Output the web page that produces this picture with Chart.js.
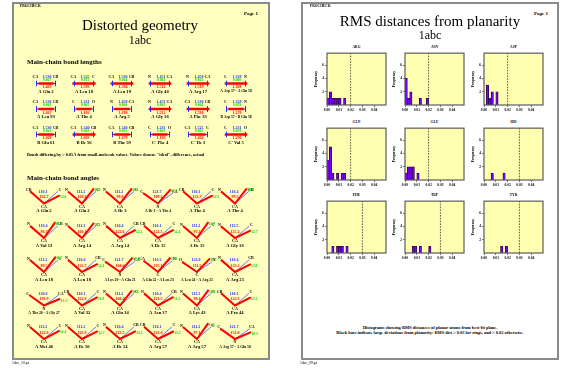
<!DOCTYPE html>
<html>
<head>
<meta charset="utf-8">
<title>PROCHECK 1abc</title>
<script src="https://cdn.jsdelivr.net/npm/chart.js@4.4.1/dist/chart.umd.min.js"></script>
<style>
  html, body { margin:0; padding:0; background:#fff; }
  body { position:relative; width:561px; height:368px; overflow:hidden;
         font-family:"Liberation Serif","Times New Roman",serif; color:#000; }
  .sheet { position:absolute; box-sizing:border-box; border:2px solid #8a8a8a; }
  #sheetGeo  { left:12px;  top:2px; width:258px; height:358px; background:#ffffc0; }
  #sheetPlan { left:301px; top:2px; width:258px; height:358px; background:#ffffff; }
  .lbl { position:absolute; white-space:nowrap; line-height:1; }
  canvas { position:absolute; }
</style>
</head>
<body>
<div class="sheet" id="sheetGeo"></div>
<div class="sheet" id="sheetPlan"></div>
<canvas id="geo" width="280" height="368" style="left:0;top:0"></canvas>
<script>
// ---------------- Main-chain bond lengths ----------------
const bondResidues = ["A Glu 2","A Leu 18","A Leu 19","A Gly 40","A Arg 17","A Asp 57 - A Glu 58",
                      "A Leu 93","A Thr 4","A Arg 5","A Gly 16","A Phe 33","B Asp 57 - B Glu 58",
                      "B Glu 61","B Ile 56","B Thr 59","C' Phe 4","C' Ile 3","C' Val 5"];
const bondAtomA = ["CA","CA","CA","N","N","C","CA","C","N","N","CA","C","CA","CA","CA","C","CA","C"];
const bondAtomB = ["CB","C","CB","CA","CA","N","CB","O","CA","CA","CB","N","CB","CB","CB","O","C","O"];
const bondIdeal  = [1.530,1.525,1.530,1.451,1.458,1.329,1.530,1.231,1.458,1.451,1.530,1.329,
                    1.530,1.540,1.540,1.231,1.525,1.231];
const bondActual = [1.463,1.596,1.594,1.512,1.519,1.389,1.467,1.166,1.398,1.512,1.594,1.270,
                    1.469,1.603,1.479,1.168,1.464,1.290];

// ---------------- Main-chain bond angles ----------------
const angleResidues = ["A Glu 2","A Glu 2","A Ile 3","A Ile 3 - A Thr 4","A Thr 4","A Thr 4",
                       "A Val 13","A Arg 14","A Arg 14","A Ile 15","A Ile 15","A Gly 16",
                       "A Leu 18","A Leu 18","A Lys 20 - A Glu 21","A Glu 22 - A Leu 23","A Leu 24 - A Arg 25","A Arg 25",
                       "A Thr 26 - A Gly 27","A Val 32","A Glu 34","A Asn 37","A Lys 43","A Pro 44",
                       "A Met 46","A Ile 50","A Ile 54","A Arg 57","A Arg 57","A Arg 57 - A Glu 58"];
const angleAtomA = ["CB","N","N","C","CB","N", "N","N","N","CB","N","N", "N","N","C","CA","O","N",
                    "C","CB","N","N","N","CB", "N","N","N","CB","N","C"];
const angleAtomB = ["CA","CA","CA","N","CA","CA", "CA","CA","CA","CA","CA","CA", "CA","CA","N","C","C","CA",
                    "N","CA","CA","CA","CA","CA", "CA","CA","CA","CA","CA","N"];
const angleAtomC = ["C","C","C","CA","C","CB", "CB","C","CB","C","C","C", "C","CB","CA","N","N","CB",
                    "CA","C","C","CB","C","C", "C","C","CB","C","C","CA"];
const angleIdeal  = [110.1,111.2,111.2,121.7,110.1,110.4, 110.4,111.2,110.4,110.1,111.2,112.5,
                     111.2,110.4,121.7,116.2,123.0,110.4, 120.6,110.1,111.2,110.4,111.2,110.1,
                     111.2,111.2,110.4,110.1,111.2,121.7];
const angleActual = [122.7,100.3, 99.8,109.2,122.3, 99.5,  96.7,100.1,122.6,122.5, 97.3,125.2,
                      99.5,122.7,108.6,105.1,111.5,123.2, 131.9,122.0,100.4,121.5, 98.4,122.3,
                     122.6,123.9,123.5,123.6, 97.1,132.0];

// Grid of the diagram page (page pixels)
const BOND_COL_X  = [46, 84, 122, 160, 198, 236];
const BOND_ROW_Y  = [83.5, 109, 134.5];
const ANGLE_COL_X = [44, 82, 120, 158, 197, 235];
const ANGLE_ROW_Y = [203.5, 238, 272, 305.5, 339];
const BOND_HALF = 9.5, BOND_EXAG = 60, ARM = 17, ARM_RISE = 1.25;

const RED = '#ff0000', BLUE = '#2828ff', PALE_BLUE = '#7474ff', GREEN = '#00d000';

function bondPos(i){ return { cx: BOND_COL_X[i % 6], by: BOND_ROW_Y[Math.floor(i / 6)] }; }
function anglePos(i){ return { vx: ANGLE_COL_X[i % 6], vy: ANGLE_ROW_Y[Math.floor(i / 6)] }; }
function armEnds(i){
  const { vx, vy } = anglePos(i);
  const beta = (180 - angleIdeal[i]) / 2 * Math.PI / 180;
  const phi = (180 - (180 - angleIdeal[i]) / 2 - angleActual[i]) * Math.PI / 180;
  return {
    left:  { x: vx - ARM * Math.cos(beta), y: vy - ARM_RISE * ARM * Math.sin(beta) },
    ideal: { x: vx + ARM * Math.cos(beta), y: vy - ARM_RISE * ARM * Math.sin(beta) },
    actual:{ x: vx + ARM * Math.cos(phi),  y: vy - ARM_RISE * ARM * Math.sin(phi) },
    vertex:{ x: vx, y: vy }
  };
}
const GAP = { x: null, y: null };

const bondIdealLine = [], bondActualLine = [], bondEnds = [];
bondIdeal.forEach((ideal, i) => {
  const { cx, by } = bondPos(i);
  const ha = BOND_HALF + (bondActual[i] - ideal) * BOND_EXAG / 2;
  bondIdealLine.push({ x: cx - BOND_HALF, y: by }, { x: cx + BOND_HALF, y: by }, GAP);
  bondActualLine.push({ x: cx - ha, y: by }, { x: cx + ha, y: by }, GAP);
  bondEnds.push({ x: cx - BOND_HALF, y: by - 2.6 }, { x: cx - BOND_HALF, y: by + 2.6 }, GAP,
                { x: cx + BOND_HALF, y: by - 2.6 }, { x: cx + BOND_HALF, y: by + 2.6 }, GAP);
});
const angleIdealLine = [], angleActualLine = [];
angleIdeal.forEach((_, i) => {
  const e = armEnds(i);
  angleIdealLine.push(e.left, e.vertex, e.ideal, GAP);
  angleActualLine.push(e.left, e.vertex, e.actual, GAP);
});

function put(ctx, s, x, y, size, color, align, weight){
  ctx.font = (weight || 'normal') + ' ' + size + 'px "Liberation Serif"';
  ctx.fillStyle = color; ctx.textAlign = align || 'center'; ctx.textBaseline = 'middle';
  ctx.fillText(s, x, y);
}

const geometryLabels = {
  id: 'geometryLabels',
  afterDatasetsDraw(chart){
    const { ctx, scales: { x, y } } = chart;
    const X = v => x.getPixelForValue(v), Y = v => y.getPixelForValue(v);
    ctx.save();
    bondIdeal.forEach((ideal, i) => {
      const { cx, by } = bondPos(i);
      put(ctx, bondAtomA[i], X(cx - 10.5), Y(by - 7), 4, '#000', 'center', 'bold');
      put(ctx, bondAtomB[i], X(cx + 9.5),  Y(by - 7), 4, '#000', 'center', 'bold');
      put(ctx, ideal.toFixed(3), X(cx + 1), Y(by - 7), 4, BLUE, 'center', 'bold');
      put(ctx, Math.abs(bondActual[i] - ideal).toFixed(3), X(cx + 1), Y(by - 3.6), 3.6, GREEN, 'center', 'bold');
      put(ctx, bondActual[i].toFixed(3), X(cx + 1), Y(by + 3.8), 4, RED, 'center', 'bold');
      put(ctx, bondResidues[i], X(cx), Y(by + 8), bondResidues[i].length > 10 ? 3.7 : 4.6, '#000', 'center', 'bold');
    });
    angleIdeal.forEach((ideal, i) => {
      const { vx, vy } = anglePos(i);
      const e = armEnds(i);
      put(ctx, angleAtomA[i], X(e.left.x - 1.5), Y(e.left.y - 1.5), 4, '#000', 'center', 'bold');
      put(ctx, angleAtomC[i], X(e.ideal.x + 2),  Y(e.ideal.y - 1.5), 4, '#000', 'center', 'bold');
      put(ctx, angleAtomB[i], X(vx), Y(vy + 3.4), 4, '#000', 'center', 'bold');
      put(ctx, ideal.toFixed(1), X(vx - 1), Y(vy - 12), 4, BLUE, 'center', 'bold');
      put(ctx, angleActual[i].toFixed(1), X(vx), Y(vy - 6.5), 4, RED, 'center', 'bold');
      put(ctx, Math.abs(angleActual[i] - ideal).toFixed(1), X(e.actual.x + 3.5), Y(e.actual.y + 1.8), 3.6, GREEN, 'center', 'bold');
      put(ctx, angleResidues[i], X(vx), Y(vy + 7.6), angleResidues[i].length > 10 ? 3.7 : 4.6, '#000', 'center', 'bold');
    });
    ctx.restore();
  }
};

const lineSet = (data, color, width, order) => ({
  data, borderColor: color, borderWidth: width, showLine: true, pointRadius: 0,
  spanGaps: false, order, borderCapStyle: 'butt', borderJoinStyle: 'miter'
});

new Chart(document.getElementById('geo'), {
  type: 'scatter',
  data: { datasets: [
    lineSet(bondIdealLine, BLUE, 1, 3),
    lineSet(bondActualLine, RED, 2.6, 2),
    lineSet(bondEnds, BLUE, 1, 1),
    lineSet(angleIdealLine, PALE_BLUE, 1, 5),
    lineSet(angleActualLine, RED, 2, 4)
  ]},
  options: {
    responsive: false, animation: false, events: [],
    layout: { padding: 0 },
    scales: {
      x: { type: 'linear', min: 0, max: 280, display: false },
      y: { type: 'linear', min: 0, max: 368, reverse: true, display: false }
    },
    plugins: { legend: { display: false }, tooltip: { enabled: false } },
    elements: { line: { tension: 0 }, point: { radius: 0 } }
  },
  plugins: [geometryLabels]
});

// ---------------- RMS distances from planarity ----------------
const planarResidues = ["ARG","ASN","ASP","GLN","GLU","HIS","PHE","TRP","TYR"];
const BIN = 0.002;   // histogram bin width (RMS distance, Å)
const argCounts = [1,2,1,1,1,1,0,1];
const asnCounts = [4,1,2,0,0,0,1,0,0,1];
const aspCounts = [0,3,1,2,0,2];
const glnCounts = [3,5,1,0,1,0,1,1];
const gluCounts = [1,2,2,2,0,1];
const hisCounts = [0,0,0,1,0,0,0,0,1];
const pheCounts = [0,0,1,0,1,1,1,0,1];
const trpCounts = [0,0,0,1,1,0,1,0,0,0,1];
const tyrCounts = [0,0,0,0,0,0,0,1,0,1];
const planarCounts = [argCounts, asnCounts, aspCounts, glnCounts, gluCounts, hisCounts, pheCounts, trpCounts, tyrCounts];
const planarLimit = [0.02,0.02,0.02,0.02,0.02,0.03,0.03,0.03,0.03];
const rmsTicks  = [0, 0.01, 0.02, 0.03, 0.04];
const freqTicks = [2, 4, 6];
const RMS_MAX = 0.05, FREQ_MAX = 7.8;

const PANEL_X = [327, 405, 484];
const PANEL_Y = [52, 127, 200];
const PLOT_W = 59, PLOT_H = 53, Y_AXIS_W = 13, X_AXIS_H = 8, PAD_T = 2, PAD_R = 2;
const PLOT_BG = '#ffffb0';

const plotFrame = {
  id: 'plotFrame',
  beforeDraw(chart){
    const { ctx, chartArea: a } = chart;
    ctx.save(); ctx.fillStyle = PLOT_BG; ctx.fillRect(a.left, a.top, a.width, a.height); ctx.restore();
  },
  afterDraw(chart){
    const { ctx, chartArea: a } = chart;
    ctx.save(); ctx.strokeStyle = '#5c5c5c'; ctx.lineWidth = 1.2;
    ctx.strokeRect(a.left, a.top, a.width, a.height); ctx.restore();
  }
};

const tickFont = { family: '"Liberation Serif"', size: 3.6, weight: 'bold' };

planarResidues.forEach((res, k) => {
  const col = k % 3, row = Math.floor(k / 3);
  const cv = document.createElement('canvas');
  cv.width = Y_AXIS_W + PLOT_W + PAD_R;
  cv.height = PAD_T + PLOT_H + X_AXIS_H;
  cv.style.left = (PANEL_X[col] - Y_AXIS_W) + 'px';
  cv.style.top = (PANEL_Y[row] - PAD_T) + 'px';
  document.body.appendChild(cv);
  const counts = planarCounts[k];
  new Chart(cv, {
    type: 'bar',
    data: { datasets: [
      { type: 'line', data: [{ x: planarLimit[k], y: 0 }, { x: planarLimit[k], y: FREQ_MAX }],
        borderColor: '#333', borderWidth: 0.8, borderDash: [1.6, 1.2], pointRadius: 0, order: 0 },
      { type: 'bar', data: counts.map((c, i) => ({ x: (i + 0.5) * BIN, y: c })),
        backgroundColor: '#7a00ff', borderColor: '#2a0050', borderWidth: 0.8,
        barPercentage: 1, categoryPercentage: 1, order: 1 }
    ]},
    options: {
      responsive: false, animation: false, events: [],
      layout: { padding: { top: PAD_T, right: PAD_R, left: 0, bottom: 0 } },
      plugins: { legend: { display: false }, tooltip: { enabled: false } },
      scales: {
        x: { type: 'linear', min: 0, max: RMS_MAX, offset: false,
             grid: { display: true, offset: false, drawOnChartArea: false, drawTicks: true, tickLength: 2, color: '#555', lineWidth: 0.8 },
             border: { display: false },
             ticks: { font: tickFont, color: '#000', padding: 0.5, maxRotation: 0, autoSkip: false,
                      callback: v => v.toFixed(2) },
             afterBuildTicks: s => { s.ticks = rmsTicks.map(v => ({ value: v })); },
             afterFit: s => { s.height = X_AXIS_H; } },
        y: { type: 'linear', min: 0, max: FREQ_MAX,
             grid: { display: true, drawOnChartArea: false, drawTicks: true, tickLength: 2, color: '#555', lineWidth: 0.8 },
             border: { display: false },
             ticks: { font: tickFont, color: '#000', padding: 1 },
             afterBuildTicks: s => { s.ticks = freqTicks.map(v => ({ value: v })); },
             title: { display: true, text: 'Frequency', font: { family: '"Liberation Serif"', size: 3.6, weight: 'bold' },
                      color: '#000', padding: 0 },
             afterFit: s => { s.width = Y_AXIS_W; } }
      }
    },
    plugins: [plotFrame]
  });
});

// ---------------- Page text ----------------
function addText(str, x, y, size, opt){
  opt = opt || {};
  const el = document.createElement('div');
  el.className = 'lbl';
  el.textContent = str;
  el.style.fontSize = size + 'px';
  if (opt.bold) el.style.fontWeight = 'bold';
  el.style.left = x + 'px';
  el.style.top = y + 'px';
  const ax = opt.align === 'left' ? 0 : opt.align === 'right' ? -100 : -50;
  el.style.transform = 'translate(' + ax + '%,-50%)';
  document.body.appendChild(el);
}

// diagram page
addText('PROCHECK', 20, 7, 3.6, { align: 'left', bold: true });
addText('Page 1', 258, 13, 5, { align: 'right', bold: true });
addText('Distorted geometry', 140, 25, 15);
addText('1abc', 140, 39.5, 12);
addText('Main-chain bond lengths', 27, 62, 7, { align: 'left', bold: true });
addText('Bonds differing by > 0.05\u00c5 from small-molecule values. Values shown: "ideal", difference, actual',
        27, 155, 4.3, { align: 'left', bold: true });
addText('Main-chain bond angles', 27, 178, 7, { align: 'left', bold: true });
addText('1abc_10.ps', 12, 364, 3.8, { align: 'left' });

// planarity page
addText('PROCHECK', 310, 7, 3.6, { align: 'left', bold: true });
addText('Page 1', 548, 13, 5, { align: 'right', bold: true });
addText('RMS distances from planarity', 430, 20.5, 15);
addText('1abc', 430, 34.5, 12);
planarResidues.forEach((res, k) => {
  addText(res, PANEL_X[k % 3] + PLOT_W / 2, PANEL_Y[Math.floor(k / 3)] - 4.5, 3.6, { bold: true });
});
addText('Histograms showing RMS distances of planar atoms from best-fit plane.', 430, 327.7, 4.4, { bold: true });
addText('Black bars indicate large deviations from planarity: RMS dist > 0.03 for rings, and > 0.02 otherwise.',
        430, 332.8, 4.4, { bold: true });
addText('1abc_09.ps', 300, 364, 3.8, { align: 'left' });
</script>
</body>
</html>
